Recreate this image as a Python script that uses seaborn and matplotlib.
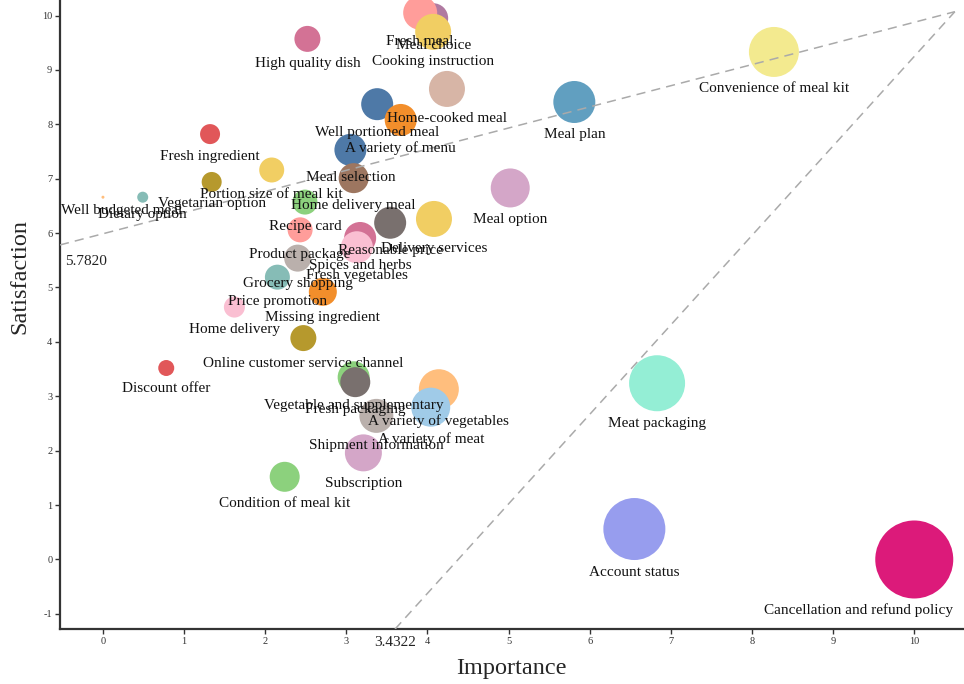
import matplotlib
matplotlib.use("Agg")
import matplotlib.pyplot as plt
import pandas as pd
import seaborn as sns

# Attributes with importance (x), satisfaction (y) and bubble radius (px)
labels = [
    "Meal choice", "Fresh meal", "Cooking instruction", "High quality dish",
    "Convenience of meal kit", "Home-cooked meal", "Meal plan", "Well portioned meal",
    "A variety of menu", "Fresh ingredient", "Meal selection", "Home delivery meal",
    "Portion size of meal kit", "Well budgeted meal", "Vegetarian option", "Dietary option",
    "Meal option", "Recipe card", "Delivery services", "Reasonable price",
    "Product package", "Spices and herbs", "Fresh vegetables", "Grocery shopping",
    "Price promotion", "Missing ingredient", "Home delivery", "Online customer service channel",
    "Discount offer", "Vegetable and supplementary", "Fresh packaging", "A variety of vegetables",
    "A variety of meat", "Shipment information", "Subscription", "Condition of meal kit",
    "Meat packaging", "Account status", "Cancellation and refund policy",
]
importance = [
    4.07, 3.91, 4.07, 2.52,
    8.27, 4.24, 5.81, 3.38,
    3.67, 1.32, 3.05, 3.09,
    2.08, 0.00, 1.34, 0.49,
    5.02, 2.49, 4.08, 3.54,
    2.43, 3.17, 3.13, 2.40,
    2.15, 2.71, 1.62, 2.47,
    0.78, 3.09, 3.11, 4.14,
    4.04, 3.37, 3.21, 2.24,
    6.83, 6.55, 10.00,
]
satisfaction = [
    9.95, 10.05, 9.70, 9.57,
    9.33, 8.65, 8.41, 8.37,
    8.08, 7.82, 7.53, 7.01,
    7.16, 6.66, 6.94, 6.66,
    6.83, 6.57, 6.26, 6.19,
    6.06, 5.91, 5.74, 5.54,
    5.19, 4.92, 4.64, 4.07,
    3.52, 3.35, 3.26, 3.13,
    2.80, 2.64, 1.96, 1.52,
    3.24, 0.56, 0.00,
]
bubble = [
    15, 17, 18, 13,
    25, 18, 21, 16,
    16, 10, 16, 15,
    12.5, 1.5, 10, 5.5,
    19.5, 12.5, 18, 16,
    12.5, 16, 16, 13.5,
    12.5, 14, 10.5, 13,
    8, 16, 15, 20,
    19.5, 17, 18.5, 15,
    28, 31, 39,
]
colors = [
    "#B07AA1", "#FF9D9A", "#F1CE63", "#D37295",
    "#F3EA8F", "#D7B5A6", "#619FC0", "#4E79A7",
    "#F28E2B", "#E15759", "#4E79A7", "#9D7660",
    "#F1CE63", "#FFBE7D", "#B6992D", "#86BCB6",
    "#D4A6C8", "#8CD17D", "#F1CE63", "#79706E",
    "#FF9D9A", "#D37295", "#FABFD2", "#BAB0AC",
    "#86BCB6", "#F28E2B", "#FABFD2", "#B6992D",
    "#E15759", "#8CD17D", "#79706E", "#FFBE7D",
    "#A0CBE8", "#BAB0AC", "#D4A6C8", "#8CD17D",
    "#94EED5", "#979DEE", "#DC1A7A",
]

# Dashed guide lines meeting at the upper right, and the values printed at their ends
upper_guide_x = [-0.53, 10.50]
upper_guide_y = [5.782, 10.07]
lower_guide_x = [3.60, 10.50]
lower_guide_y = [-1.28, 10.07]
guide_texts = ["5.7820", "3.4322"]

x_ticks = list(range(0, 11))
y_ticks = list(range(-1, 11))

sns.set_style("ticks")
plt.rcParams["font.family"] = ["Liberation Serif", "DejaVu Serif"]
plt.rcParams["axes.unicode_minus"] = False

fig = plt.figure(figsize=(9.64, 6.84), dpi=100)
ax = fig.add_axes([0.0622, 0.08, 0.9367, 0.92])

df = pd.DataFrame({"label": labels, "importance": importance,
                   "satisfaction": satisfaction, "radius": bubble})
areas = {lab: (1.44 * r) ** 2 for lab, r in zip(labels, bubble)}
sns.scatterplot(data=df, x="importance", y="satisfaction", hue="label",
                palette=dict(zip(labels, colors)), size="label", sizes=areas,
                legend=False, linewidth=0, alpha=1, ax=ax, zorder=2)

# labels sit just under each bubble
texts = []
for lab, xv, yv, r in zip(labels, importance, satisfaction, bubble):
    t = ax.annotate(lab, xy=(xv, yv), xytext=(0, -(r + 12) * 0.72),
                    textcoords="offset points", ha="center", va="center",
                    fontsize=11, color="#111111", zorder=4)
    texts.append(t)

ax.plot(upper_guide_x, upper_guide_y, ls=(0, (6, 4)), color="#AAAAAA", lw=1.1, zorder=3)
ax.plot(lower_guide_x, lower_guide_y, ls=(0, (6, 4)), color="#AAAAAA", lw=1.1, zorder=3)
ax.annotate(guide_texts[0], xy=(upper_guide_x[0], upper_guide_y[0]), xytext=(4, -12),
            textcoords="offset points", ha="left", va="center", fontsize=11, color="#222222")
ax.annotate(guide_texts[1], xy=(lower_guide_x[0], lower_guide_y[0]), xytext=(0, -9.5),
            textcoords="offset points", ha="center", va="center", fontsize=11,
            color="#222222", annotation_clip=False)

ax.set_xlim(-0.53, 10.60)
ax.set_ylim(-1.283, 10.285)
ax.set_xticks(x_ticks)
ax.set_yticks(y_ticks)
ax.tick_params(direction="out", length=3.5, width=1, labelsize=7.5, pad=2, colors="#333333")
for side in ["top", "right"]:
    ax.spines[side].set_visible(False)
for side in ["left", "bottom"]:
    ax.spines[side].set_linewidth(1.6)
    ax.spines[side].set_color("#333333")

ax.set_xlabel("Importance", fontsize=17.5)
ax.set_ylabel("Satisfaction", fontsize=17.5)
ax.xaxis.set_label_coords(0.5, -0.045)
ax.yaxis.set_label_coords(-0.033, 0.561)

# keep labels inside the plot area
fig.canvas.draw()
renderer = fig.canvas.get_renderer()
ax_box = ax.get_window_extent(renderer)
left_px = ax_box.x0 + 1
right_px = ax_box.x1 - 10
for t in texts:
    bb = t.get_window_extent(renderer)
    ox, oy = t.xyann
    if bb.x0 < left_px:
        t.xyann = (ox + (left_px - bb.x0) * 0.72, oy)
    elif bb.x1 > right_px:
        t.xyann = (ox - (bb.x1 - right_px) * 0.72, oy)

fig.savefig("out.png", dpi=100)
